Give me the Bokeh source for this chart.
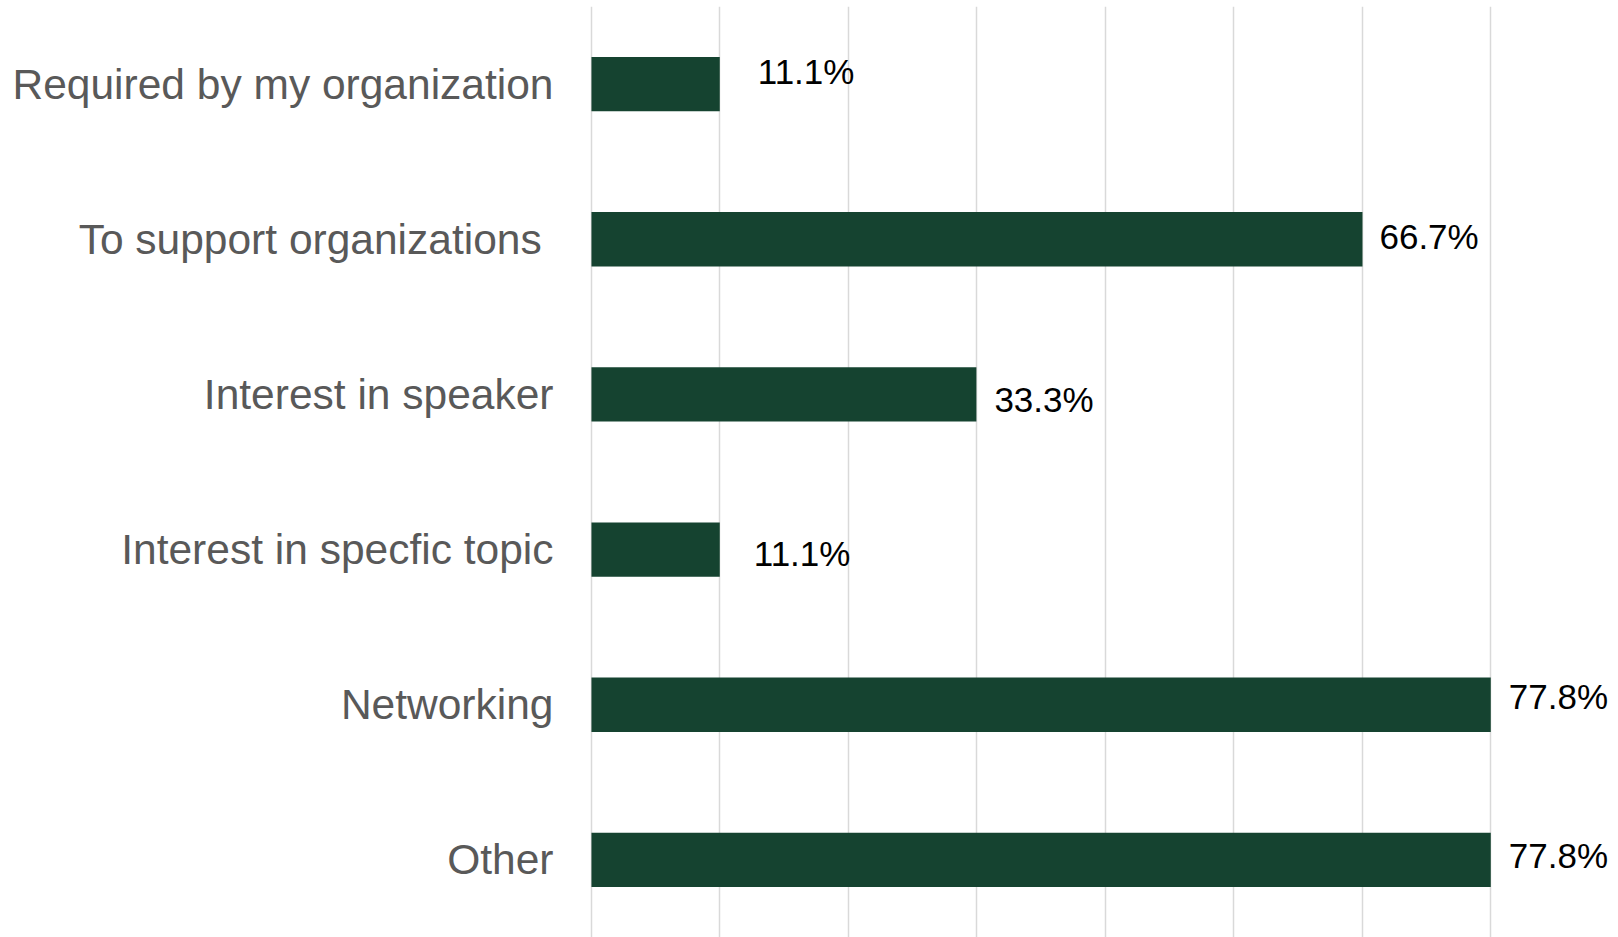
from bokeh.plotting import figure
from bokeh.models import ColumnDataSource, FixedTicker
from bokeh.core.properties import value
from bokeh.embed import file_html
from bokeh.resources import INLINE

# ---- data ----
categories = [
    "Required by my organization",
    "To support organizations ",
    "Interest in speaker",
    "Interest in specfic topic",
    "Networking",
    "Other",
]
percentages = [11.1, 66.7, 33.3, 11.1, 77.8, 77.8]
value_labels = ["11.1%", "66.7%", "33.3%", "11.1%", "77.8%", "77.8%"]
grid_ticks = [0, 100 / 9, 200 / 9, 300 / 9, 400 / 9, 500 / 9, 600 / 9, 700 / 9]

# ---- label nudges (screen px) ----
label_dx = [38, 17, 18, 34, 18, 18]
label_dy = [-13, -3, 5, 4, -8, -4]

BAR = "#154330"
FONT = "Liberation Sans"

src = ColumnDataSource(dict(
    cat=categories, val=percentages, lab=value_labels,
    dx=label_dx, dy=label_dy,
))

p = figure(
    width=1618, height=937,
    y_range=list(reversed(categories)),
    x_range=(-0.17, 88.85),
    output_backend="svg", toolbar_location=None,
    min_border_left=589, min_border_right=0,
    min_border_top=6, min_border_bottom=0,
)
p.y_range.range_padding = 0
p.outline_line_color = None
p.background_fill_color = "white"
p.border_fill_color = "white"

p.hbar(y="cat", left=0, right="val", height=0.35, source=src,
       fill_color=BAR, line_color=None)

p.text(x="val", y="cat", text="lab", source=src,
       x_offset="dx", y_offset="dy",
       text_font=value(FONT), text_font_size="35px",
       text_color="black", text_align="left", text_baseline="middle")

p.xaxis.visible = False
p.xgrid.ticker = FixedTicker(ticks=grid_ticks)
p.xgrid.grid_line_color = "#d9d9d9"
p.xgrid.grid_line_width = 1.5
p.ygrid.grid_line_color = None

yax = p.yaxis[0]
yax.axis_line_color = None
yax.major_tick_line_color = None
yax.minor_tick_line_color = None
yax.major_tick_out = 0
yax.major_tick_in = 0
yax.major_label_standoff = 36
yax.major_label_text_font = FONT
yax.major_label_text_font_size = "42.5px"
yax.major_label_text_color = "#595959"

open("out.html", "w").write(file_html(p, INLINE))
